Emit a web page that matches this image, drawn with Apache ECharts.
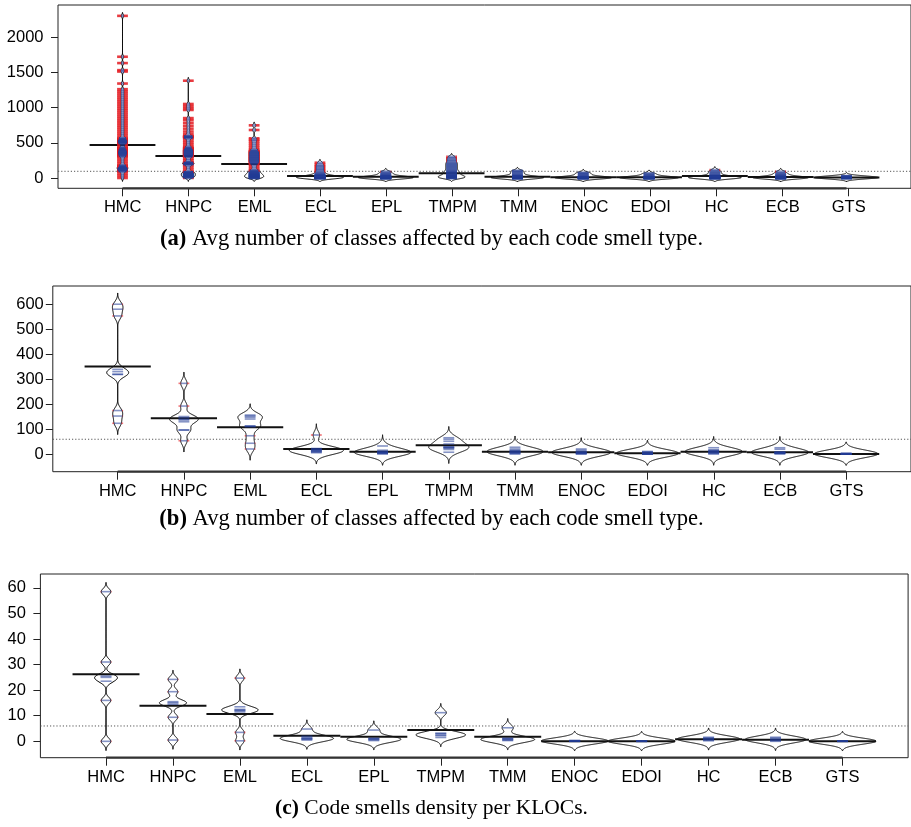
<!DOCTYPE html>
<html><head><meta charset="utf-8">
<script src="https://cdn.jsdelivr.net/npm/echarts@6/dist/echarts.min.js"></script>
<style>html,body{margin:0;padding:0;background:#fff}#chart{width:911px;height:827px}</style>
</head><body><div id="chart"></div>
<script>
// ---------------- DATA ----------------
const categories = ['HMC','HNPC','EML','ECL','EPL','TMPM','TMM','ENOC','EDOI','HC','ECB','GTS'];

// (a) observations per code smell type
const obsA = [
  [0,30,60,90,100,107,114,121,128,134,140,146,152,158,165,172,180,210,240,270,300,310,320,330,338,346,354,362,370,378,386,394,402,410,420,430,440,470,490,497,504,511,518,525,532,539,546,553,560,567,600,630,660,690,720,750,780,810,840,870,900,930,960,990,1020,1050,1080,1110,1140,1170,1200,1230,1260,1340,1510,1530,1630,1720,2300],
  [0,10,15,20,25,30,35,40,45,50,55,60,65,70,75,80,85,90,120,150,180,195,200,205,210,215,220,225,250,275,300,308,316,324,332,340,348,356,364,372,380,388,396,404,412,420,430,440,470,500,530,560,575,580,585,590,595,625,660,700,740,780,820,850,965,990,1020,1050,1380],
  [0,0,4,8,12,16,20,24,28,32,36,40,45,50,55,60,66,72,80,88,96,104,112,140,170,195,210,220,230,240,250,260,270,280,290,300,310,320,330,340,350,360,370,380,390,400,430,460,490,520,545,563,681,747],
  [0,0,0,0,0,1,2,3,4,5,5,6,8,10,10,12,14,15,18,20,22,25,28,32,36,40,50,60,75,90,110,130,150,170,190,217],
  [0,0,0,0,0,0,1,2,3,4,5,5,6,8,10,12,14,16,20,25,30,40,50,60,75,90],
  [0,0,2,5,10,15,20,25,30,35,40,50,60,70,80,90,100,115,130,145,160,175,190,205,220,240,260,280,300],
  [0,0,0,0,0,0,1,2,3,4,5,6,8,10,12,14,16,20,25,30,40,50,66,80,95,104],
  [0,0,0,0,0,0,0,1,2,3,4,5,6,8,10,12,15,20,30,40,57,66,75],
  [0,0,0,0,0,0,0,0,1,2,3,4,5,6,8,10,12,15,20,30,42,55,66],
  [0,0,0,0,0,0,1,2,3,4,5,6,8,10,12,14,16,20,25,30,40,50,66,80,95,113],
  [0,0,0,0,0,0,0,1,2,3,4,5,6,8,10,12,15,20,25,35,45,57,70,90],
  [0,0,0,0,0,2,4,6,8,10,12,15,20,24,28]
];
const avgA = [468,312,199,28,18,66,17,10,10,28,16,8];
const overallA = 95;
const yTicksA = [0,500,1000,1500,2000];

// (b)
const obsB = [
  [123,152,174,319,319,330,339,553,580,600],
  [53,96,96,129,136,139,145,150,192,283],
  [20,43,73,110,110,113,140,147,152,156],
  [5,8,10,12,14,16,18,20,22,76],
  [0,2,3,5,6,7,8,10,15,32],
  [7,18,23,25,27,29,40,51,59,65],
  [0,2,4,6,8,10,12,15,20,27],
  [0,1,2,3,4,6,8,10,15,20],
  [0,0,0,0,1,2,3,5,9,10],
  [0,2,4,6,8,10,12,14,17,25],
  [0,2,3,4,5,6,7,8,19,25],
  [0,0,0,0,0,0,0,1,2,3]
];
const avgB = [350,143,107,20,9,35,9,7,3,9,7,0];
const overallB = 59;
const yTicksB = [0,100,200,300,400,500,600];

// (c)
const obsC = [
  [0,16,23.5,25,25.5,31,58.5],
  [0.5,9.4,14.5,15.1,15.5,19.4,24.2],
  [0.2,3.5,11.5,12,12.2,12.5,13.5,24.7],
  [0.5,0.8,1,1.2,1.5,2,4.8],
  [0.3,0.6,0.9,1,1.2,4.4],
  [1.5,2.2,2.5,3.1,3.1,11.2],
  [0.3,0.5,0.8,1,1.2,5.3],
  [0,0,0.1,0.2,0.3,0.3],
  [0,0,0,0.1,0.1,0.2],
  [0.2,0.5,0.8,1,1.3,1.6],
  [0,0.3,0.5,0.8,1.2,1.6],
  [0,0,0,0.1,0.1,0.2]
];
const avgC = [26.2,13.9,10.7,2.2,1.8,4.4,1.8,0,0,0.8,0.6,0];
const overallC = 6;
const yTicksC = [0,10,20,30,40,50,60];

const captions = [
  ['(a)', ' Avg number of classes affected by each code smell type.'],
  ['(b)', ' Avg number of classes affected by each code smell type.'],
  ['(c)', ' Code smells density per KLOCs.']
];

// ---------------- LAYOUT / STYLE ----------------
const panels = [
  {obs: obsA, avg: avgA, overall: overallA, ticks: yTicksA,
   grid: {left: 58.0, top: 5, width: 855.4, height: 183.3}, ymin: -146, ymax: 2454,
   bw: 16, maxHW: 0.48, gamma: 0.75, lw: 2.6, redAlpha: 0.85, labelMargin: 14.5, capY: 239, capSize: 22.6},
  {obs: obsB, avg: avgB, overall: overallB, ticks: yTicksB,
   grid: {left: 52.8, top: 286, width: 858.6, height: 185.7}, ymin: -71, ymax: 673,
   bw: 15, maxHW: 0.48, gamma: 1, lw: 1.6, redAlpha: 0.6, labelMargin: 9, capY: 519, capSize: 22.6},
  {obs: obsC, avg: avgC, overall: overallC, ticks: yTicksC,
   grid: {left: 40.4, top: 574, width: 867.7, height: 183.7}, ymin: -6.4, ymax: 65.4,
   bw: 1.2, maxHW: 0.5, gamma: 1, lw: 1.6, redAlpha: 0.6, labelMargin: 14.5, capY: 808, capSize: 21.5}
];
const XMIN = 0.02, XMAX = 12.98, LINE_HALF = 0.082, NSTEP = 240;
const BLUE = 'rgba(35,60,150,0.55)';
const catTicks = categories.map((c, i) => i + 1);

function kde(obs, bw, v) {
  let s = 0;
  for (const o of obs) { const z = (v - o) / bw; s += Math.exp(-0.5 * z * z); }
  return s / (obs.length * bw * Math.sqrt(2 * Math.PI));
}
panels.forEach(p => {
  let m = 0;
  p.obs.forEach(ob => {
    const lo = Math.min(...ob) - 3 * p.bw, hi = Math.max(...ob) + 3 * p.bw;
    for (let k = 0; k <= NSTEP; k++) { const d = kde(ob, p.bw, lo + (hi - lo) * k / NSTEP); if (d > m) m = d; }
  });
  p.maxD = m;
});

const FONT = 'Liberation Sans, Arial, Helvetica, sans-serif';
const grids = [], xAxes = [], yAxes = [], series = [];
// main plotting grids (0..2)
panels.forEach((p, pi) => {
  grids.push(Object.assign({show: true, borderColor: '#222', borderWidth: 1, backgroundColor: 'transparent'}, p.grid));
  xAxes.push({type: 'value', gridIndex: pi, min: XMIN, max: XMAX, position: 'bottom',
    splitLine: {show: false}, axisLine: {show: false, onZero: false}, axisTick: {show: false}, axisLabel: {show: false}});
  yAxes.push({type: 'value', gridIndex: pi, min: p.ymin, max: p.ymax, position: 'left',
    splitLine: {show: false}, axisLine: {show: false, onZero: false}, axisTick: {show: false}, axisLabel: {show: false}});
});
// tick grids (3..5): span exactly first..last tick, axes pushed out to the plot border with offset
panels.forEach((p, pi) => {
  const band = p.grid.width / (XMAX - XMIN);
  const ppu = p.grid.height / (p.ymax - p.ymin);
  const t0 = p.ticks[0], t1 = p.ticks[p.ticks.length - 1];
  const tg = {show: false,
    left: p.grid.left + (0.5 - XMIN) * band, width: 12 * band,
    top: p.grid.top + (p.ymax - t1) * ppu, height: (t1 - t0) * ppu};
  grids.push(tg);
  const xoff = (p.grid.top + p.grid.height) - (tg.top + tg.height);
  const yoff = tg.left - p.grid.left;
  xAxes.push({type: 'category', gridIndex: 3 + pi, data: categories, boundaryGap: true, position: 'bottom', offset: xoff,
    axisLine: {show: false, onZero: false},
    axisTick: {show: true, alignWithLabel: true, length: 8, lineStyle: {color: '#222', width: 1}},
    axisLabel: {interval: 0, fontSize: 16.5, color: '#000', margin: 11, fontFamily: FONT},
    splitLine: {show: false}});
  yAxes.push({type: 'value', gridIndex: 3 + pi, min: t0, max: t1, interval: p.ticks[1] - p.ticks[0], position: 'left', offset: yoff,
    axisLine: {show: false, onZero: false},
    axisTick: {show: true, length: 7, lineStyle: {color: '#222', width: 1}},
    axisLabel: {formatter: v => String(v), fontSize: 16.5, color: '#000', margin: p.labelMargin, fontFamily: FONT},
    splitLine: {show: false}});
});

panels.forEach((p, pi) => {
  const RED = 'rgba(228,26,32,' + p.redAlpha + ')';
  // frame: overall mean (dotted) + axis line between first/last tick
  series.push({type: 'custom', xAxisIndex: pi, yAxisIndex: pi, z: 1, clip: false, silent: true,
    data: [[1, p.overall]],
    renderItem: (params, api) => {
      const a = api.coord([XMIN, p.overall]), b = api.coord([XMAX, p.overall]);
      const c = api.coord([1, p.ymin]), d = api.coord([12, p.ymin]);
      return {type: 'group', children: [
        {type: 'line', shape: {x1: a[0], y1: a[1], x2: b[0], y2: b[1]}, style: {stroke: '#555', lineWidth: 1, lineDash: [1.2, 2]}},
        {type: 'line', shape: {x1: c[0], y1: c[1], x2: d[0], y2: d[1]}, style: {stroke: '#333', lineWidth: 2.2}}
      ]};
    }
  });
  // beans
  series.push({type: 'custom', xAxisIndex: pi, yAxisIndex: pi, z: 2, clip: false, silent: true,
    data: categories.map((c, i) => [i + 1, p.avg[i]]),
    renderItem: (params, api) => {
      const cx = api.value(0), i = cx - 1, ob = p.obs[i], bw = p.bw;
      const lo = Math.min(...ob) - 3 * bw, hi = Math.max(...ob) + 3 * bw;
      const hw = v => Math.pow(kde(ob, bw, v) / p.maxD, p.gamma) * p.maxHW;
      const right = [], left = [];
      for (let k = 0; k <= NSTEP; k++) {
        const v = lo + (hi - lo) * k / NSTEP, w = hw(v);
        right.push(api.coord([cx + w, v]));
        left.push(api.coord([cx - w, v]));
      }
      const children = [];
      children.push({type: 'polygon', shape: {points: right.concat(left.reverse())}, style: {fill: '#fff', stroke: '#000', lineWidth: 1}});
      const a1 = api.coord([cx - 0.5, api.value(1)]), a2 = api.coord([cx + 0.5, api.value(1)]);
      children.push({type: 'line', shape: {x1: a1[0], y1: a1[1], x2: a2[0], y2: a2[1]}, style: {stroke: '#111', lineWidth: 2}});
      ob.forEach(o => {
        const w = hw(o), inner = Math.min(w, LINE_HALF);
        const l = api.coord([cx - inner, o]), r = api.coord([cx + inner, o]);
        children.push({type: 'line', shape: {x1: l[0], y1: l[1], x2: r[0], y2: r[1]}, style: {stroke: BLUE, lineWidth: p.lw}});
        if (w < LINE_HALF) {
          const L0 = api.coord([cx - LINE_HALF, o]), R0 = api.coord([cx + LINE_HALF, o]);
          children.push({type: 'line', shape: {x1: L0[0], y1: L0[1], x2: l[0], y2: l[1]}, style: {stroke: RED, lineWidth: p.lw}});
          children.push({type: 'line', shape: {x1: r[0], y1: r[1], x2: R0[0], y2: R0[1]}, style: {stroke: RED, lineWidth: p.lw}});
        }
      });
      return {type: 'group', children};
    }
  });
});

const SERIF = 'Liberation Serif, Times New Roman, serif';
const graphic = panels.map((p, pi) => ({
  type: 'text', x: 431.5, y: p.capY,
  style: {
    text: '{b|' + captions[pi][0] + '}{n|' + captions[pi][1] + '}',
    align: 'center', verticalAlign: 'middle', textAlign: 'center', textVerticalAlign: 'middle',
    rich: {
      b: {fontWeight: 'bold', fontSize: p.capSize, fontFamily: SERIF, color: '#000'},
      n: {fontSize: p.capSize, fontFamily: SERIF, color: '#000'}
    }
  }
}));

const chart = echarts.init(document.getElementById('chart'), null, {renderer: 'canvas'});
chart.setOption({
  animation: false,
  backgroundColor: '#fff',
  grid: grids, xAxis: xAxes, yAxis: yAxes, series, graphic
});
</script></body></html>
